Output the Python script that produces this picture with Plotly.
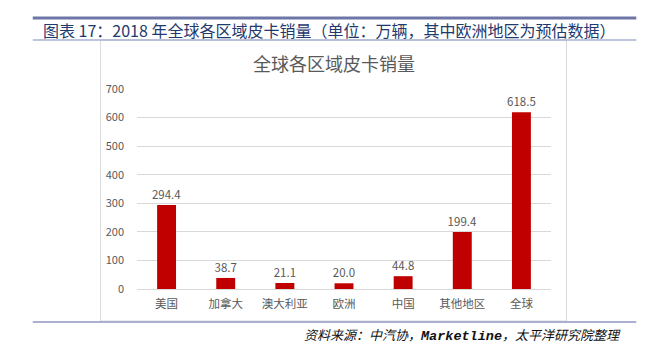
import plotly.graph_objects as go

categories = ["美国", "加拿大", "澳大利亚", "欧洲", "中国", "其他地区", "全球"]
sales = [294.4, 38.7, 21.1, 20.0, 44.8, 199.4, 618.5]
y_ticks = [0, 100, 200, 300, 400, 500, 600, 700]

W, H = 649, 355
L, R, T, B = 136.5, 97.5, 89, 66
PW, PH = W - L - R, H - T - B

def px(x):
    return (x - L) / PW

def py(y):
    return (H - B - y) / PH

FONT = "Noto Sans CJK SC, Noto Sans, sans-serif"

fig = go.Figure()
fig.add_trace(go.Bar(
    x=categories, y=sales,
    marker=dict(color="#C00000", line=dict(width=0)),
    text=[f"{v:.1f}" for v in sales],
    textposition="outside",
    constraintext="none",
    textfont=dict(size=11.5, color="#595959", family=FONT),
    cliponaxis=False,
    hoverinfo="skip",
))

shapes = [
    # chart panel
    dict(type="rect", xref="paper", yref="paper", x0=px(100), x1=px(567), y0=py(321), y1=py(40),
         line=dict(color="#D9D9D9", width=1), fillcolor="white", layer="below"),
    # top thick line
    dict(type="line", xref="paper", yref="paper", x0=px(32), x1=px(637), y0=py(18), y1=py(18),
         line=dict(color="#6E76A8", width=3)),
    # thin line under header
    dict(type="line", xref="paper", yref="paper", x0=px(32), x1=px(637), y0=py(40), y1=py(40),
         line=dict(color="#AAB0D2", width=1.5)),
    # bottom line
    dict(type="line", xref="paper", yref="paper", x0=px(32), x1=px(637), y0=py(322), y1=py(322),
         line=dict(color="#AAB0D2", width=2)),
]

source = ("资料来源：中汽协，"
          "<span style='font-family:Liberation Mono, DejaVu Sans Mono, monospace;font-weight:bold;font-size:13.5px'>Marketline</span>"
          "，太平洋研究院整理")

annotations = [
    dict(text="图表 17：2018 年全球各区域皮卡销量（单位：万辆，其中欧洲地区为预估数据）",
         xref="paper", yref="paper", x=px(40), y=py(30), xanchor="left", yanchor="middle",
         showarrow=False, font=dict(size=16, color="#1F3A6E", family=FONT)),
    dict(text="全球各区域皮卡销量",
         xref="paper", yref="paper", x=px(334), y=py(63), xanchor="center", yanchor="middle",
         showarrow=False, font=dict(size=18, color="#595959", family=FONT)),
    dict(text=source,
         xref="paper", yref="paper", x=px(624), y=py(334), xanchor="right", yanchor="middle",
         showarrow=False, font=dict(size=13, color="#111111", family=FONT, style="italic")),
]

fig.update_layout(
    width=W, height=H,
    margin=dict(l=L, r=R, t=T, b=B, pad=0),
    paper_bgcolor="white", plot_bgcolor="rgba(0,0,0,0)",
    bargap=0.68,
    showlegend=False,
    hovermode=False,
    shapes=shapes,
    annotations=annotations,
    font=dict(family=FONT, color="#595959"),
    xaxis=dict(showgrid=False, showline=False, ticks="", ticklabelstandoff=6,
               tickfont=dict(size=11.5, color="#595959", family=FONT)),
    yaxis=dict(range=[0, 700], tickvals=y_ticks, showgrid=True, gridcolor="#D9D9D9", gridwidth=1,
               zeroline=True, zerolinecolor="#D9D9D9", zerolinewidth=1, showline=False,
               ticks="", ticklabelstandoff=12,
               tickfont=dict(size=11, color="#595959", family=FONT)),
)

fig.write_html("out.html", config={"displayModeBar": False},
               post_script="document.body.style.margin='0';document.body.style.overflow='hidden';")
